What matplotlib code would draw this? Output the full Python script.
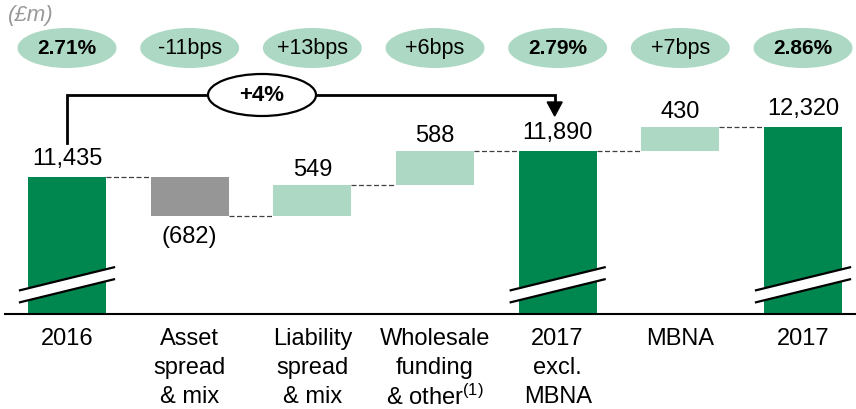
import matplotlib
matplotlib.use("Agg")
import matplotlib.pyplot as plt
from matplotlib.patches import Ellipse, Polygon

plt.rcParams['font.family'] = ['Liberation Sans', 'DejaVu Sans']
plt.rcParams['mathtext.fontset'] = 'custom'
plt.rcParams['mathtext.rm'] = 'Liberation Sans'
plt.rcParams['mathtext.default'] = 'regular'

# ---------------- data ----------------
categories = [["2016"], ["Asset", "spread", "& mix"], ["Liability", "spread", "& mix"],
              ["Wholesale", "funding", "& other$^{(1)}$"], ["2017", "excl.", "MBNA"],
              ["MBNA"], ["2017"]]
kinds = ["total", "delta", "delta", "delta", "total", "delta", "total"]
values = [11435, -682, 549, 588, 11890, 430, 12320]
value_labels = ["11,435", "(682)", "549", "588", "11,890", "430", "12,320"]
margin_labels = ["2.71%", "-11bps", "+13bps", "+6bps", "2.79%", "+7bps", "2.86%"]
margin_bold = [True, False, False, False, True, False, True]
growth_label = "+4%"
unit_label = "(£m)"

# ---------------- style ----------------
DARK = "#00864f"
LIGHT = "#acd8c4"
GREY = "#969696"
OVAL = "#acd8c4"

W, H = 856, 409
fig = plt.figure(figsize=(W / 100, H / 100), dpi=100)
ax = fig.add_axes([0, 0, 1, 1])
XPX = 122.67                    # pixels per category
x0 = -67 / XPX
ax.set_xlim(x0, x0 + W / XPX)
YMIN, YMAX = 7350, 14551
ax.set_ylim(YMIN, YMAX)
ax.axis('off')
upp = (YMAX - YMIN) / H         # value units per pixel
BASE = 9000                     # broken-axis baseline


def py(pix):                    # pixel-from-top -> data y
    return YMAX - pix * upp


def dx(pix):
    return pix / XPX


def dy(pix):
    return pix * upp


bw = 78 / XPX
# compute bars
running = 0
bars = []
for i, (k, v) in enumerate(zip(kinds, values)):
    if k == "total":
        bottom, top = BASE, v
        running = v
        color = DARK
    else:
        start = running
        running = running + v
        bottom, top = min(start, running), max(start, running)
        color = GREY if v < 0 else LIGHT
    bars.append((bottom, top))
    ax.bar(i, top - bottom, bottom=bottom, width=bw, color=color, zorder=2)

# connectors
running = 0
levels = []
for k, v in zip(kinds, values):
    running = v if k == "total" else running + v
    levels.append(running)
for i in range(len(values) - 1):
    ax.plot([i + bw / 2, i + 1 - bw / 2], [levels[i], levels[i]],
            color="#404040", lw=0.9, ls=(0, (4, 2)), zorder=1)

# value labels
for i, (v, lab) in enumerate(zip(values, value_labels)):
    b, t = bars[i]
    if v < 0:
        ax.text(i, b - dy(21), lab, ha='center', va='center', fontsize=17)
    else:
        off = 18 if kinds[i] == "total" else 15
        ax.text(i, t + dy(off), lab, ha='center', va='center', fontsize=17)

# break marks on total bars
for i, k in enumerate(kinds):
    if k != "total":
        continue
    xl, xr = i - dx(47), i + dx(47)
    tl, tr = BASE + dy(25), BASE + dy(48)
    bl, br = BASE + dy(13), BASE + dy(36)
    ax.add_patch(Polygon([[xl, tl], [xr, tr], [xr, br], [xl, bl]], closed=True,
                         facecolor='white', edgecolor='none', zorder=3))
    ax.plot([xl, xr], [tl, tr], color='black', lw=1.6, zorder=4)
    ax.plot([xl, xr], [bl, br], color='black', lw=1.6, zorder=4)

# axis line
ax.plot([x0 + dx(5), x0 + W / XPX], [BASE + dy(1), BASE + dy(1)], color='black', lw=1.5, zorder=5)

# category labels
for i, lines in enumerate(categories):
    for j, line in enumerate(lines):
        ax.text(i, BASE - dy(24 + 29 * j), line, ha='center', va='center', fontsize=17)

# margin ovals
for i, (lab, b) in enumerate(zip(margin_labels, margin_bold)):
    ax.add_patch(Ellipse((i, py(48)), dx(99), dy(40), facecolor=OVAL, edgecolor='none', zorder=2))
    ax.text(i, py(48), lab, ha='center', va='center',
            fontsize=15 if b else 15.5, fontweight='bold' if b else 'normal', zorder=3)

# growth bracket
ytop = py(95)
ax.plot([0, 0, 4 - dx(3), 4 - dx(3)], [py(143), ytop, ytop, py(103)],
        color='black', lw=2, zorder=3, solid_joinstyle='miter')
ax.add_patch(Polygon([[4 - dx(3) - dx(7.5), py(102)], [4 - dx(3) + dx(7.5), py(102)],
                      [4 - dx(3), py(116)]], closed=True, facecolor='black', edgecolor='black', zorder=4))
gx = x0 + dx(262)
ax.add_patch(Ellipse((gx, ytop), dx(108), dy(42), facecolor='white', edgecolor='black', lw=1.6, zorder=5))
ax.text(gx, ytop, growth_label, ha='center', va='center', fontsize=16, fontweight='bold', zorder=6)

# unit label
ax.text(x0 + dx(8), py(15), unit_label, ha='left', va='center', fontsize=16,
        style='italic', color='#999999')

fig.savefig("out.png", dpi=100)
